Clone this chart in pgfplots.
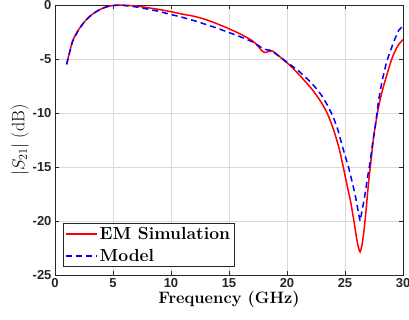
\documentclass[border=0pt]{standalone}
\usepackage{fontspec}
\usepackage{pgfplots}
\pgfplotsset{compat=1.18}
\newfontfamily\tickfont{Liberation Sans}
\begin{document}
\begin{tikzpicture}
\begin{axis}[
  name=ax,
  scale only axis,
  width=348pt, height=270pt,
  xmin=0, xmax=30, ymin=-25, ymax=0,
  xtick={0,5,...,30}, ytick={-25,-20,...,0},
  grid=major,
  grid style={gray!30, line width=0.7pt},
  axis line style={black!85, line width=0.7pt},
  tick style={black!85, line width=0.7pt},
  tick align=inside,
  major tick length=4pt,
  /pgf/number format/assume math mode=true,
  tick label style={font=\tickfont\bfseries\fontsize{13}{15}\selectfont, text=black!85},
  xlabel={\bfseries Frequency (GHz)},
  ylabel={$|S_{21}|$ (dB)},
  xlabel style={font=\fontsize{16.5}{18}\selectfont, yshift=3pt},
  ylabel style={font=\fontsize{18}{20}\selectfont, yshift=-3pt},
  legend style={font=\bfseries\fontsize{17.5}{19}\selectfont, draw=black!85, inner sep=2pt, row sep=4pt, at={(0.023,0.03)}, anchor=south west},
  legend cell align=left,
]
\addlegendimage{color=red, line width=1.5pt, legend image code/.code={\draw[color=red, line width=1.5pt] (0pt,0pt) -- (31pt,0pt);}}
\addlegendentry{EM Simulation}
\addlegendimage{color=blue, line width=1.5pt, legend image code/.code={\draw[color=blue, line width=1.5pt, dash pattern=on 6pt off 4pt] (0pt,0pt) -- (31pt,0pt);}}
\addlegendentry{Model}
\addplot[color=red, line width=1.5pt, smooth, forget plot] coordinates {
(1,-5.5)(1.5,-3.4)(2,-2.35)(2.5,-1.6)(3,-1.05)(3.5,-0.65)(4,-0.35)(4.5,-0.15)(5,-0.05)(5.5,0)(6,-0.02)(7,-0.1)(8,-0.25)(9,-0.42)(10,-0.62)(11,-0.85)(12,-1.05)(13,-1.35)(14,-1.75)(15,-2.2)(16,-2.7)(17,-3.3)(17.5,-3.8)(17.8,-4.2)(18.1,-4.4)(18.4,-4.3)(18.7,-4.25)(19,-4.45)(19.5,-4.9)(20,-5.35)(20.5,-5.85)(21,-6.4)(21.5,-7.0)(22,-7.6)(22.5,-8.3)(23,-9.1)(23.5,-10.1)(24,-11.5)(24.5,-13.3)(24.85,-15)(25.2,-16.8)(25.5,-18.3)(25.8,-20.2)(26.0,-21.6)(26.15,-22.4)(26.3,-22.85)(26.45,-22.3)(26.6,-21.2)(26.8,-19.2)(27.0,-16.8)(27.2,-14.8)(27.5,-12.0)(27.8,-10.0)(28.0,-8.9)(28.3,-7.6)(28.6,-6.5)(29.0,-5.1)(29.3,-4.3)(29.6,-3.7)(30,-3.2)
};
\addplot[color=blue, line width=1.5pt, dash pattern=on 6pt off 4pt, forget plot] coordinates {
(1,-5.5)(1.5,-3.4)(2,-2.35)(2.5,-1.6)(3,-1.05)(3.5,-0.65)(4,-0.35)(4.5,-0.15)(5,-0.05)(5.5,-0.02)(6,-0.05)(7,-0.18)(8,-0.38)(9,-0.6)(10,-0.88)(11,-1.15)(12,-1.45)(13,-1.8)(14,-2.15)(15,-2.55)(16,-2.95)(17,-3.4)(17.6,-3.8)(18,-4.1)(18.3,-4.15)(18.6,-4.2)(19,-4.5)(19.5,-4.9)(20,-5.3)(20.5,-5.7)(21,-6.1)(21.5,-6.6)(22,-7.1)(22.5,-7.7)(23,-8.4)(23.5,-9.3)(24,-10.4)(24.4,-11.6)(24.8,-13.2)(25.3,-15)(25.6,-16.3)(25.9,-17.7)(26.1,-18.9)(26.3,-20.0)(26.5,-18.9)(26.7,-17.7)(27.0,-15.6)(27.2,-14.3)(27.4,-12.6)(27.6,-11.3)(27.9,-8.8)(28.2,-7.0)(28.6,-5.2)(29.0,-4.0)(29.2,-3.4)(29.6,-2.4)(30,-1.9)
};
\end{axis}
\pgfresetboundingbox
\useasboundingbox ([xshift=-55pt,yshift=-45pt]ax.south west) rectangle ([xshift=6pt,yshift=5pt]ax.north east);
\end{tikzpicture}
\end{document}
